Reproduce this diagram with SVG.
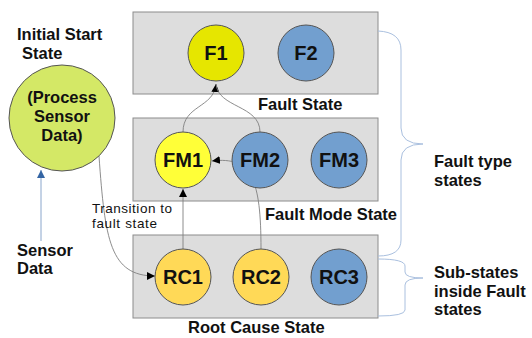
<svg xmlns="http://www.w3.org/2000/svg" width="532" height="338" viewBox="0 0 532 338">
<defs>
<style>
.box{fill:#dddddd;stroke:#8c8c8c;stroke-width:1}
.n{stroke:#555;stroke-width:1}
.yel{fill:#e6e600}
.yel2{fill:#ffff38}
.gold{fill:#ffd957}
.blue{fill:#729fcf}
.lbl{font-family:"Liberation Sans",Arial,sans-serif;font-weight:bold;font-size:20px;fill:#111;text-anchor:middle}
.t{font-family:"Liberation Sans",Arial,sans-serif;font-weight:bold;font-size:16.5px;fill:#111}
.s{font-family:"Liberation Sans",Arial,sans-serif;font-size:13.5px;fill:#111}
.c{fill:none;stroke:#808080;stroke-width:0.9}
.br{fill:none;stroke:#aac0df;stroke-width:1}
</style>
<marker id="ah" viewBox="0 0 10 10" refX="10" refY="5" markerWidth="8" markerHeight="8" markerUnits="userSpaceOnUse" orient="auto">
<path d="M0,0 L10,5 L0,10 z" fill="#000"/>
</marker>
<marker id="ahb" viewBox="0 0 10 10" refX="10" refY="5" markerWidth="8" markerHeight="9" markerUnits="userSpaceOnUse" orient="auto">
<path d="M0,0 L10,5 L0,10 z" fill="#3465a4"/>
</marker>
</defs>

<g id="fault-state-box">
<rect class="box" x="133" y="12" width="245" height="82"/>
<text class="t" x="258" y="110">Fault State</text>
</g>
<g id="fault-mode-box">
<rect class="box" x="133" y="118" width="245" height="83"/>
<text class="t" x="265" y="220">Fault Mode State</text>
</g>
<g id="root-cause-box">
<rect class="box" x="133" y="235" width="245" height="83"/>
<text class="t" x="188" y="333">Root Cause State</text>
</g>

<g id="connectors">
<path class="c" d="M183 132 C183 105, 214 108, 216 84" marker-end="url(#ah)"/>
<path class="c" d="M260 132 C260 105, 218 108, 216 84"/>
<path class="c" d="M183 249 L183 189" marker-end="url(#ah)"/>
<path class="c" d="M261 249 C261 180, 252 156, 212 161" marker-end="url(#ah)"/>
<path class="c" d="M99 156 C105 240, 110 276, 155 276" marker-end="url(#ah)"/>
<path d="M41 241 L41 170" fill="none" stroke="#8aa6cc" stroke-width="1" marker-end="url(#ahb)"/>
<path class="br" d="M378 31 Q401 32 401 50 L401 128 Q401 144 423 144 Q401 144 401 160 L401 240 Q401 256 378 256"/>
<path class="br" d="M378 259 Q405 259 405 266 L405 272 Q405 278 423 278 Q405 278 405 285 L405 310 Q405 316 378 316"/>
</g>

<g id="F1"><circle class="n yel" cx="216" cy="53" r="28"/><text class="lbl" x="216" y="60">F1</text></g>
<g id="F2"><circle class="n blue" cx="306" cy="53" r="28"/><text class="lbl" x="306" y="60">F2</text></g>
<g id="FM1"><circle class="n yel2" cx="183" cy="160" r="28"/><text class="lbl" x="183" y="167">FM1</text></g>
<g id="FM2"><circle class="n blue" cx="260" cy="160" r="28"/><text class="lbl" x="260" y="167">FM2</text></g>
<g id="FM3"><circle class="n blue" cx="339" cy="160" r="28"/><text class="lbl" x="339" y="167">FM3</text></g>
<g id="RC1"><circle class="n gold" cx="183" cy="277" r="28"/><text class="lbl" x="183" y="284">RC1</text></g>
<g id="RC2"><circle class="n gold" cx="261" cy="277" r="28"/><text class="lbl" x="261" y="284">RC2</text></g>
<g id="RC3"><circle class="n blue" cx="339" cy="277" r="28"/><text class="lbl" x="339" y="284">RC3</text></g>

<g id="initial-state">
<circle class="n" cx="62" cy="118" r="53" fill="#d4e866"/>
<text class="t" x="62" y="103" text-anchor="middle">(Process</text>
<text class="t" x="62" y="122" text-anchor="middle">Sensor</text>
<text class="t" x="62" y="141" text-anchor="middle">Data)</text>
</g>

<g id="labels">
<text class="t" x="17" y="40">Initial Start</text>
<text class="t" x="22" y="59">State</text>
<text class="t" x="17" y="256">Sensor</text>
<text class="t" x="17" y="274">Data</text>
<text class="s" x="92" y="213" textLength="80" lengthAdjust="spacing">Transition to</text>
<text class="s" x="92" y="228" textLength="65" lengthAdjust="spacing">fault state</text>
<text class="t" x="434" y="167">Fault type</text>
<text class="t" x="434" y="186">states</text>
<text class="t" x="434" y="278">Sub-states</text>
<text class="t" x="434" y="297">inside Fault</text>
<text class="t" x="434" y="315">states</text>
</g>
</svg>
